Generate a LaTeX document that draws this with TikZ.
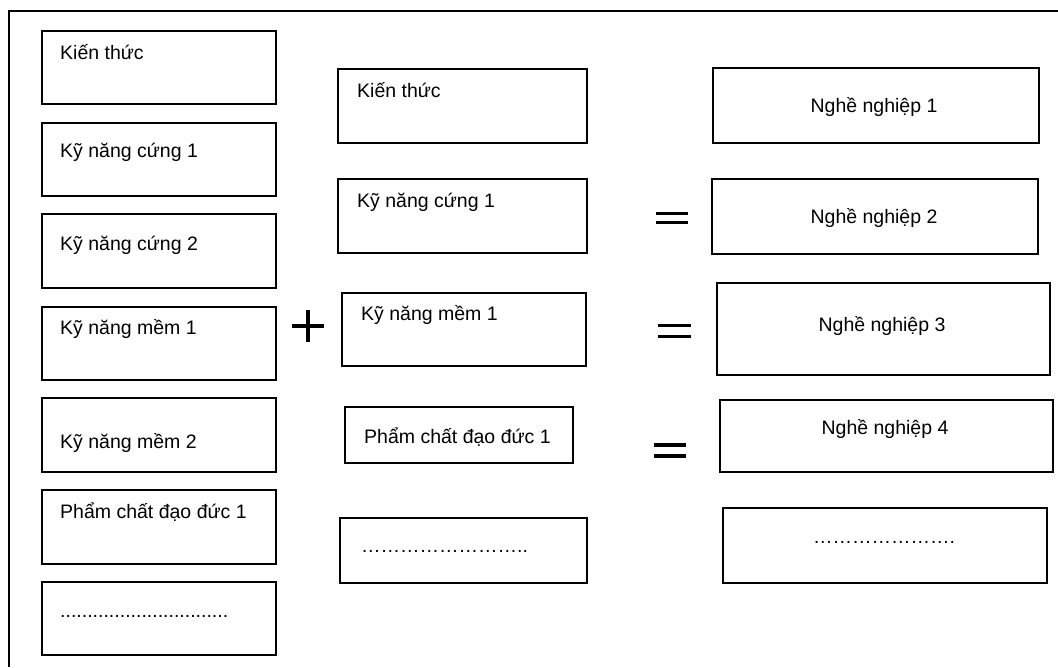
\documentclass[tikz,border=0pt]{standalone}
\usepackage{fontspec}
\setmainfont{Liberation Sans}
\begin{document}
\begin{tikzpicture}[x=1pt,y=-1pt,
  box/.style={draw=black,line width=2pt,fill=white,anchor=north west,inner sep=0pt},
  lbl/.style={anchor=base west,inner sep=0pt,font=\fontsize{19.5}{23}\selectfont},
  clbl/.style={anchor=base,inner sep=0pt,font=\fontsize{19.5}{23}\selectfont},
  sym/.style={line width=3.2pt}]
\useasboundingbox (0,0) rectangle (1058,667);
% outer frame (only top and left edges visible)
\coordinate (ftr) at (1058,11);
\coordinate (ftl) at (9,11);
\coordinate (fbl) at (9,667);
\draw[line width=1.8pt] (ftr) -- (ftl) -- (fbl);
% left column
\node[box,minimum width=234pt,minimum height=73pt] (l1) at (41,30) {};
\node[box,minimum width=234pt,minimum height=73pt] (l2) at (41,122) {};
\node[box,minimum width=234pt,minimum height=74pt] (l3) at (41,213) {};
\node[box,minimum width=234pt,minimum height=73pt] (l4) at (41,306) {};
\node[box,minimum width=234pt,minimum height=74pt] (l5) at (41,397) {};
\node[box,minimum width=234pt,minimum height=74pt] (l6) at (41,489) {};
\node[box,minimum width=234pt,minimum height=73pt] (l7) at (41,581) {};
\node[lbl] (t1) at (60,59) {Kiến thức};
\node[lbl] (t2) at (60,157) {Kỹ năng cứng 1};
\node[lbl] (t3) at (60,250) {Kỹ năng cứng 2};
\node[lbl] (t4) at (60,334) {Kỹ năng mềm 1};
\node[lbl] (t5) at (60,448) {Kỹ năng mềm 2};
\node[lbl] (t6) at (60,518) {Phẩm chất đạo đức 1};
\node[lbl] (t7) at (60,617) {...............................};
% middle column
\node[box,minimum width=249pt,minimum height=74pt] (m1) at (337,68) {};
\node[box,minimum width=249pt,minimum height=74pt] (m2) at (337,178) {};
\node[box,minimum width=244pt,minimum height=73pt] (m3) at (341,292) {};
\node[box,minimum width=228pt,minimum height=56pt] (m4) at (344,406) {};
\node[box,minimum width=247pt,minimum height=65pt] (m5) at (339,517) {};
\node[lbl] (u1) at (357,97) {Kiến thức};
\node[lbl] (u2) at (357,207) {Kỹ năng cứng 1};
\node[lbl] (u3) at (361,320) {Kỹ năng mềm 1};
\node[lbl] (u4) at (364,443) {Phẩm chất đạo đức 1};
\node[lbl] (u5) at (361,552) {……………………..};
% right column
\node[box,minimum width=326pt,minimum height=75pt] (r1) at (712,67) {};
\node[box,minimum width=326pt,minimum height=75pt] (r2) at (711,178) {};
\node[box,minimum width=333pt,minimum height=92pt] (r3) at (716,282) {};
\node[box,minimum width=333pt,minimum height=72pt] (r4) at (719,399) {};
\node[box,minimum width=324pt,minimum height=75pt] (r5) at (722,507) {};
\node[clbl] (v1) at (874,112) {Nghề nghiệp 1};
\node[clbl] (v2) at (874,223) {Nghề nghiệp 2};
\node[clbl] (v3) at (882,331) {Nghề nghiệp 3};
\node[clbl] (v4) at (885,434) {Nghề nghiệp 4};
\node[lbl] (v5) at (813,543) {………………….};
% plus sign
\coordinate (pl) at (292,326); \coordinate (pr) at (324,326);
\coordinate (pt) at (308,310); \coordinate (pb) at (308,342);
\draw[sym] (pl) -- (pr);
\draw[sym] (pt) -- (pb);
% equals signs
\coordinate (e1a) at (656,213.7); \coordinate (e1b) at (688,213.7);
\coordinate (e1c) at (656,222.5); \coordinate (e1d) at (688,222.5);
\draw[sym] (e1a) -- (e1b); \draw[sym] (e1c) -- (e1d);
\coordinate (e2a) at (658,325.2); \coordinate (e2b) at (691,325.2);
\coordinate (e2c) at (658,336.3); \coordinate (e2d) at (691,336.3);
\draw[sym] (e2a) -- (e2b); \draw[sym] (e2c) -- (e2d);
\coordinate (e3a) at (654,445); \coordinate (e3b) at (686,445);
\coordinate (e3c) at (654,456); \coordinate (e3d) at (686,456);
\draw[sym] (e3a) -- (e3b); \draw[sym] (e3c) -- (e3d);
\end{tikzpicture}
\end{document}
